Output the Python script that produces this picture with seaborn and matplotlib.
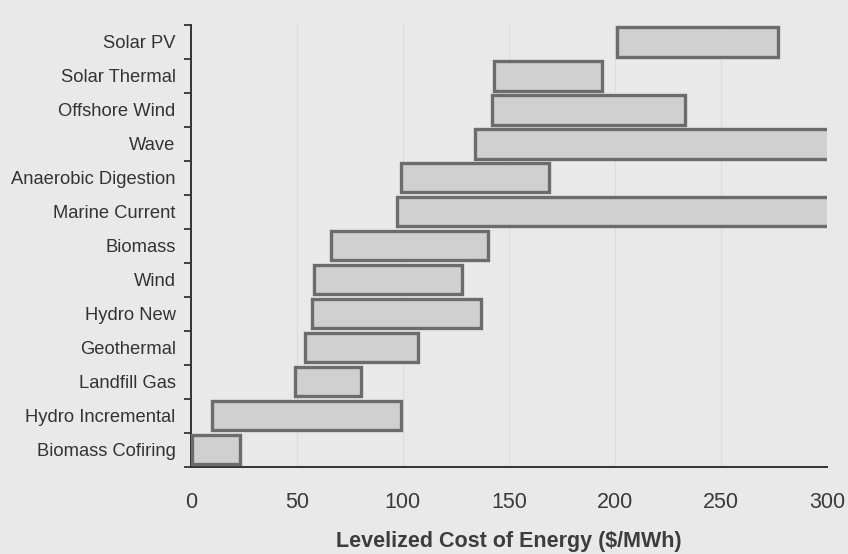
import matplotlib
matplotlib.use("Agg")
import matplotlib.pyplot as plt
from matplotlib.ticker import FixedLocator
import seaborn as sns
import pandas as pd
import numpy as np

technologies = ["Solar PV", "Solar Thermal", "Offshore Wind", "Wave", "Anaerobic Digestion",
                "Marine Current", "Biomass", "Wind", "Hydro New", "Geothermal",
                "Landfill Gas", "Hydro Incremental", "Biomass Cofiring"]
cost_low = [201, 143, 142, 134, 99, 97, 66, 58, 57, 54, 49, 10, 0.5]
cost_high = [277, 194, 233, 320, 169, 320, 140, 128, 137, 107, 80, 99, 23]
x_ticks = [0, 50, 100, 150, 200, 250, 300]

df = pd.DataFrame({"tech": technologies, "low": cost_low, "high": cost_high})
df["span"] = df["high"] - df["low"]

sns.set_theme(style="white")
bg = "#e9e9e9"
plt.rcParams["font.family"] = ["Liberation Sans", "DejaVu Sans"]

fig = plt.figure(figsize=(8.48, 5.54), dpi=100, facecolor=bg)
ax = fig.add_axes([0.2252, 0.1576, 0.975 - 0.2252, 0.9549 - 0.1576])
ax.set_facecolor(bg)

sns.barplot(data=df, y="tech", x="span", order=technologies, orient="h", ax=ax,
            color="#d0d0d0", saturation=1, width=0.86,
            edgecolor="#6c6c6c", linewidth=2.4, errorbar=None, zorder=3)
for patch, start in zip(ax.patches, df["low"]):
    patch.set_x(start)

ax.set_xlim(0, 300)
ax.set_ylim(len(technologies) - 0.5, -0.5)
ax.set_xticks(x_ticks)
ax.set_xticklabels([str(t) for t in x_ticks], fontsize=15.5, color="#3a3a3a")
ax.tick_params(axis="x", length=7, width=1.3, color="#333333", pad=11, direction="out")
ax.yaxis.set_minor_locator(FixedLocator(np.arange(-0.5, len(technologies), 1.0)))
ax.tick_params(axis="y", which="major", length=0, pad=11, labelsize=13.2, labelcolor="#333333")
ax.tick_params(axis="y", which="minor", length=5, width=1.3, color="#333333", left=True)
ax.set_ylabel("")
ax.set_xlabel("Levelized Cost of Energy ($/MWh)", fontsize=15.5, fontweight="bold",
              color="#3d3d3d", labelpad=13)

for t in x_ticks[1:]:
    ax.axvline(t, color="#dcdcdc", lw=0.8, zorder=0)

for side in ["top", "right"]:
    ax.spines[side].set_visible(False)
for side in ["left", "bottom"]:
    ax.spines[side].set_color("#333333")
    ax.spines[side].set_linewidth(1.4)

fig.savefig("out.png", dpi=100, facecolor=bg)
